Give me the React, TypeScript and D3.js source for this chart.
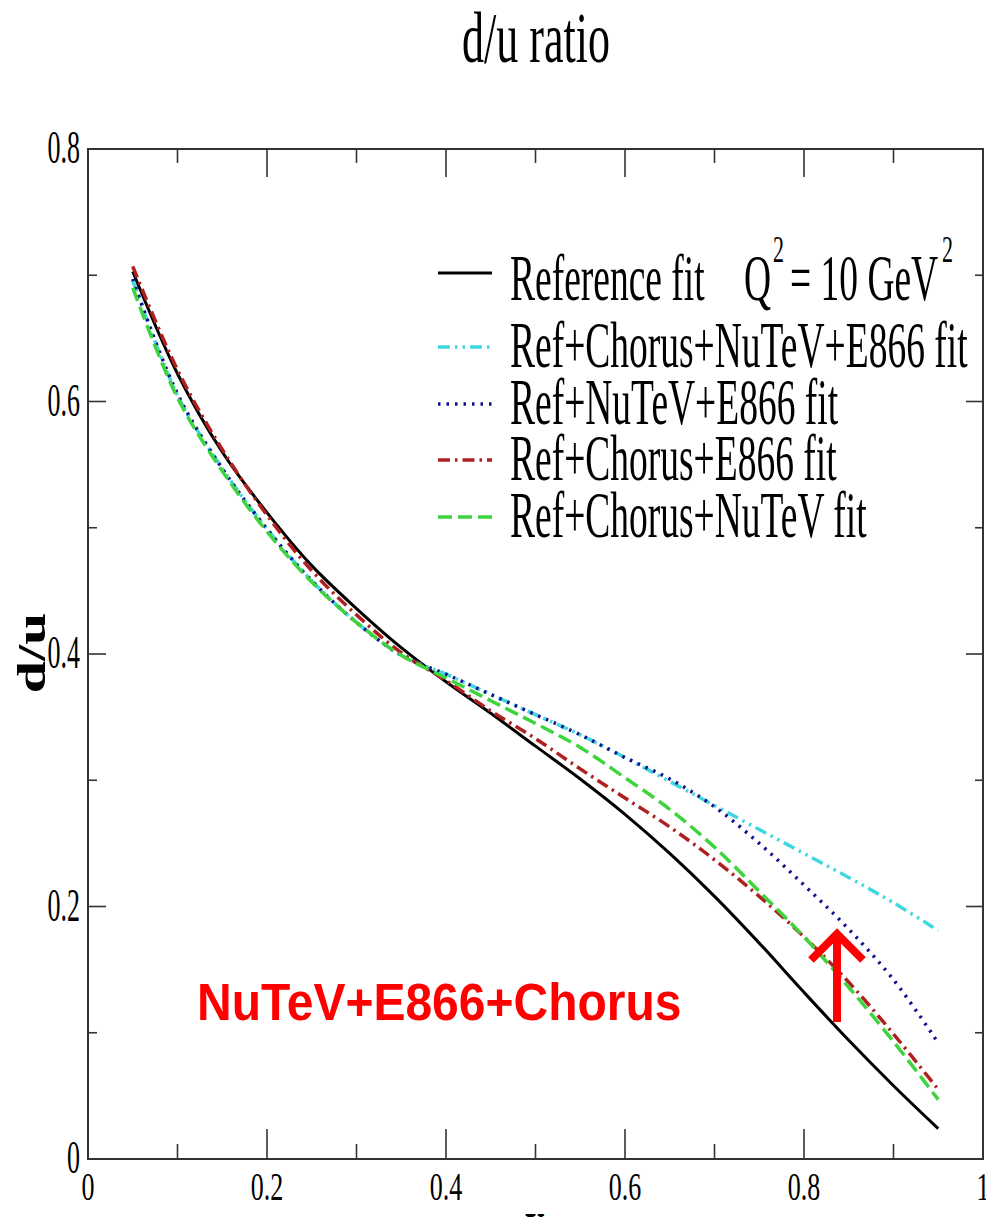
import * as React from 'react'
import {scaleLinear, line, curveCatmullRom, range} from 'd3'

// x grid shared by every fit
const xs = [0.05, 0.1, 0.15, 0.2, 0.25, 0.3, 0.35, 0.4, 0.45, 0.5, 0.55, 0.6, 0.65, 0.7, 0.75, 0.8, 0.85, 0.9, 0.95]

const refFit = [0.703, 0.622, 0.560, 0.512, 0.470, 0.436, 0.405, 0.378, 0.353, 0.327, 0.301, 0.273, 0.242, 0.208, 0.171, 0.132, 0.094, 0.058, 0.024]
const refChorusNutevE866 = [0.696, 0.605, 0.547, 0.499, 0.458, 0.425, 0.399, 0.384, 0.368, 0.352, 0.336, 0.318, 0.299, 0.280, 0.261, 0.242, 0.223, 0.203, 0.181]
const refNutevE866 = [0.697, 0.606, 0.547, 0.499, 0.458, 0.425, 0.399, 0.384, 0.368, 0.352, 0.336, 0.318, 0.301, 0.279, 0.250, 0.217, 0.182, 0.142, 0.092]
const refChorusE866 = [0.707, 0.625, 0.562, 0.510, 0.466, 0.431, 0.401, 0.379, 0.355, 0.333, 0.309, 0.286, 0.263, 0.237, 0.208, 0.176, 0.140, 0.099, 0.055]
const refChorusNutev = [0.690, 0.603, 0.545, 0.497, 0.457, 0.425, 0.399, 0.381, 0.363, 0.345, 0.326, 0.302, 0.277, 0.247, 0.212, 0.176, 0.136, 0.093, 0.047]

const xTickLabels = ['0', '0.2', '0.4', '0.6', '0.8', '1']
const yTickLabels = ['0', '0.2', '0.4', '0.6', '0.8']

const series = [
  {name: 'Reference fit', values: refFit, color: '#000000', dash: null, width: 3},
  {name: 'Ref+Chorus+NuTeV+E866 fit', values: refChorusNutevE866, color: '#3fd8e0', dash: '12,5,2.5,5,2.5,5', width: 3.5},
  {name: 'Ref+NuTeV+E866 fit', values: refNutevE866, color: '#10108f', dash: '2.5,6', width: 3.5},
  {name: 'Ref+Chorus+E866 fit', values: refChorusE866, color: '#b02020', dash: '12,5,2.5,5', width: 3.5},
  {name: 'Ref+Chorus+NuTeV fit', values: refChorusNutev, color: '#3ed43e', dash: '14,6', width: 3.5},
]

const SERIF = '"Liberation Serif", "DejaVu Serif", serif'
const SANS = '"Liberation Sans", Arial, sans-serif'

const left = 88, right = 983, top = 149, bottom = 1159

// stretched text, the picture is taller than it is wide
function SText({x, y, k, size, anchor = 'start', weight = 'normal', family = SERIF, fill = '#000', children}: any) {
  return (
    <text transform={`translate(${x},${y}) scale(1,${k})`} fontSize={size} fontFamily={family}
      fontWeight={weight} textAnchor={anchor} fill={fill}>{children}</text>
  )
}

export default function App() {
  const x = scaleLinear().domain([0, 1]).range([left, right])
  const y = scaleLinear().domain([0, 0.8]).range([bottom, top])

  const path = line<number>()
    .x((d, i) => x(xs[i]))
    .y(d => y(d))
    .curve(curveCatmullRom.alpha(0.5))

  const xMajor = range(0, 1.001, 0.2)
  const xMinor = range(0.1, 1, 0.2)
  const yMajor = range(0, 0.801, 0.2)
  const yMinor = range(0.1, 0.8, 0.2)

  const legendY = [273, 347, 404, 460, 517]
  const axisColor = '#333'

  return (
    <svg width={986} height={1217} style={{position: 'absolute', left: 0, top: 0, background: '#fff'}}>
      <rect width={986} height={1217} fill="#fff" />

      <SText x={536} y={62} k={1.65} size={44} anchor="middle">d/u ratio</SText>

      {/* ticks */}
      <g stroke={axisColor} strokeWidth={1.6}>
        {xMajor.map(v => <line key={'xb' + v} x1={x(v)} x2={x(v)} y1={bottom} y2={bottom - 30} />)}
        {xMinor.map(v => <line key={'xbm' + v} x1={x(v)} x2={x(v)} y1={bottom} y2={bottom - 15} />)}
        {xMajor.map(v => <line key={'xt' + v} x1={x(v)} x2={x(v)} y1={top} y2={top + 28} />)}
        {xMinor.map(v => <line key={'xtm' + v} x1={x(v)} x2={x(v)} y1={top} y2={top + 14} />)}
        {yMajor.map(v => <line key={'yl' + v} x1={left} x2={left + 18} y1={y(v)} y2={y(v)} />)}
        {yMinor.map(v => <line key={'ylm' + v} x1={left} x2={left + 9} y1={y(v)} y2={y(v)} />)}
        {yMajor.map(v => <line key={'yr' + v} x1={right} x2={right - 17} y1={y(v)} y2={y(v)} />)}
        {yMinor.map(v => <line key={'yrm' + v} x1={right} x2={right - 8} y1={y(v)} y2={y(v)} />)}
      </g>
      <rect x={left} y={top} width={right - left} height={bottom - top} fill="none" stroke={axisColor} strokeWidth={2} />

      {xTickLabels.map((t, i) => (
        <SText key={'xl' + t} x={x(xMajor[i])} y={1200} k={1.55} size={26} anchor="middle">{t}</SText>
      ))}
      {yTickLabels.map((t, i) => (
        <SText key={'yl' + t} x={80} y={y(yMajor[i]) + 14} k={1.8} size={26} anchor="end">{t}</SText>
      ))}

      <text transform={`translate(45,653) scale(1,1.45) rotate(-90)`} fontSize={40} fontFamily={SERIF}
        fontWeight="bold" textAnchor="middle">d/u</text>
      <text transform={`translate(535,1240) scale(1,1.4)`} fontSize={40} fontFamily={SERIF}
        fontWeight="bold" textAnchor="middle">x</text>

      {/* curves */}
      {series.map(s => (
        <path key={s.name} d={path(s.values) || ''} fill="none" stroke={s.color} strokeWidth={s.width}
          strokeDasharray={s.dash || undefined} />
      ))}

      {/* legend */}
      {series.map((s, i) => (
        <g key={'lg' + s.name}>
          <line x1={438} x2={492} y1={legendY[i]} y2={legendY[i]} stroke={s.color} strokeWidth={s.width}
            strokeDasharray={s.dash || undefined} />
          {i === 0 ? (
            <g>
              <SText x={510} y={300} k={1.72} size={37.5}>{s.name}</SText>
              <SText x={744} y={300} k={1.72} size={37.5}>Q</SText>
              <SText x={773} y={262} k={1.72} size={22}>2</SText>
              <SText x={790} y={300} k={1.72} size={37.5}>= 10 GeV</SText>
              <SText x={942} y={262} k={1.72} size={22}>2</SText>
            </g>
          ) : (
            <SText x={510} y={legendY[i] + 20} k={1.72} size={37.5}>{s.name}</SText>
          )}
        </g>
      ))}

      {/* annotation */}
      <SText x={197} y={1020} k={1.08} size={48} family={SANS} weight="bold" fill="#ff0000">NuTeV+E866+Chorus</SText>
      <g stroke="#ff0000" strokeWidth={8} fill="none">
        <line x1={837} x2={837} y1={1022} y2={938} />
        <polyline points="811,960 837,934 863,960" strokeLinejoin="miter" />
      </g>
    </svg>
  )
}
